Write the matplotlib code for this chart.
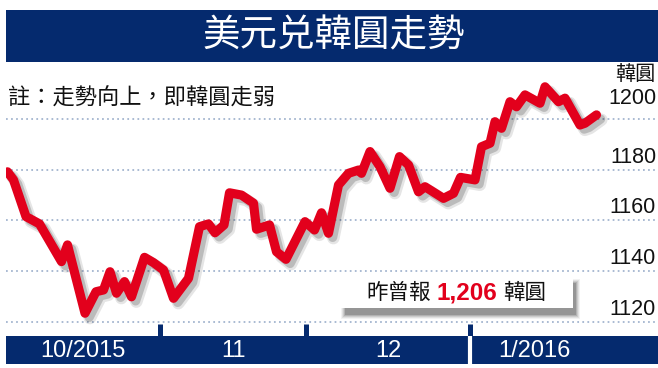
import matplotlib
matplotlib.use("Agg")
import matplotlib.pyplot as plt
import matplotlib.patheffects as pe
from matplotlib.patches import Rectangle

# ---------------- data ----------------
title = "美元兑韓圓走勢"
note = "註：走勢向上，即韓圓走弱"
unit = "韓圓"
# x: approximate day offset from 1 Oct 2015
day = [0.3, 1.5, 4.0, 6.7, 11.1, 12.3, 15.8, 18.0, 19.5, 20.8, 22.1, 23.7, 25.1,
       27.7, 29.5, 31.5, 33.5, 36.5, 38.7, 40.5, 41.8, 43.6, 44.7, 47.1, 49.5,
       50.1, 52.7, 54.1, 56.0, 59.8, 61.7, 63.1, 64.5, 66.5, 68.5, 70.5, 71.1,
       72.8, 74.8, 76.8, 78.7, 80.5, 82.5, 83.8, 87.5, 89.5, 90.9, 93.8, 95.1,
       96.8, 97.8, 99.1, 100.8, 102.1, 103.8, 106.8, 107.8, 110.5, 111.8, 114.8,
       115.8, 118.1]
krw = [1179.2, 1176.0, 1161.5, 1158.6, 1143.7, 1150.3, 1123.3, 1131.8, 1132.5,
       1139.7, 1131.2, 1135.8, 1129.8, 1145.4, 1143.3, 1140.4, 1129.2, 1137.1,
       1157.5, 1158.6, 1155.1, 1158.2, 1170.9, 1170.0, 1166.8, 1156.5, 1158.2,
       1147.6, 1144.6, 1159.5, 1156.2, 1163.0, 1154.9, 1174.0, 1178.6, 1179.9,
       1178.6, 1187.2, 1181.2, 1172.7, 1185.2, 1181.9, 1171.3, 1173.3, 1168.7,
       1170.7, 1177.0, 1176.0, 1189.1, 1190.5, 1199.0, 1196.4, 1206.9, 1204.9,
       1209.6, 1206.3, 1212.8, 1206.9, 1208.3, 1197.7, 1198.4, 1201.7]
y_ticks = [1120, 1140, 1160, 1180, 1200]
month_bounds = [30.7, 60.0, 92.8]
month_centers = [15.3, 45.5, 76.5, 105.6]
month_labels = ["10/2015", "11", "12", "1/2016"]
callout_pre = "昨曾報"
callout_value = "1,206"
callout_post = "韓圓"

# ---------------- styling ----------------
W, H = 658, 368
NAVY = "#052a6e"
RED = "#e2001c"
GRID = "#a9bad2"
CJK = ["Noto Sans CJK TC", "DejaVu Sans"]
NUM = ["Liberation Sans", "DejaVu Sans"]

def fx(px):
    return px / W

def fy(py):
    return 1 - py / H

fig = plt.figure(figsize=(W / 100, H / 100), dpi=100)
fig.patch.set_facecolor("white")

# main plotting axes
ax_l, ax_r, ax_t, ax_b = 6, 658, 62, 336
ax = fig.add_axes([fx(ax_l), fy(ax_b), (ax_r - ax_l) / W, (ax_b - ax_t) / H])
ax.set_xlim(0, 130.4)
ax.set_ylim(1114.3, 1222.6)
ax.set_axis_off()

for v in y_ticks:
    ax.axhline(v, color=GRID, lw=1.4, dashes=(0.9, 1.7), zorder=1)

ax.vlines(month_bounds, 1114.3, 1119.0, color=NAVY, lw=3.6, zorder=2)

ax.plot(day, krw, color=RED, lw=6.6, solid_joinstyle="round",
        solid_capstyle="round", zorder=5,
        path_effects=[pe.SimpleLineShadow(offset=(3.5, -3.5), shadow_color="#000000", alpha=0.10, linewidth=9),
                      pe.SimpleLineShadow(offset=(3, -3), shadow_color="#000000", alpha=0.18),
                      pe.Normal()])

# y labels (right, above gridlines)
for v in y_ticks:
    dy = 21 if v == y_ticks[-1] else 12.5
    ax.annotate(str(v), xy=(1, v), xycoords=("axes fraction", "data"),
                xytext=(-2, dy), textcoords="offset pixels", ha="right",
                va="center", fontsize=15.5, family=NUM, color="#111111")

fig.text(fx(655), fy(75), unit, ha="right", va="center", fontsize=14.5,
         family=CJK, color="#111111")

fig.text(fx(8), fy(98), note, ha="left", va="center", fontsize=16,
         family=CJK, color="#111111")

# title bar
axt = fig.add_axes([fx(6), fy(62), (658 - 6) / W, (62 - 10) / H])
axt.set_facecolor(NAVY)
axt.set_xticks([]); axt.set_yticks([])
for s in axt.spines.values():
    s.set_visible(False)
axt.text(0.503, 0.5, title, ha="center", va="center", color="white",
         fontsize=27, family=CJK, transform=axt.transAxes)

# bottom bar
axb = fig.add_axes([fx(6), fy(364), (658 - 6) / W, (364 - 336) / H])
axb.set_facecolor(NAVY)
axb.set_xlim(ax.get_xlim())
axb.set_ylim(0, 1)
axb.set_xticks([]); axb.set_yticks([])
for s in axb.spines.values():
    s.set_visible(False)
axb.axvline(month_bounds[-1], color="white", lw=3)
for xc, lab in zip(month_centers, month_labels):
    axb.text(xc, 0.47, lab, ha="center", va="center", color="white",
             fontsize=17, family=NUM)

# callout box with soft shadow (below / right)
for i, a in enumerate([0.05, 0.07, 0.09, 0.12, 0.16]):
    grow = 4 - i
    fig.patches.append(Rectangle((fx(345 - grow), fy(315 + grow)),
                                 (231 + 2 * grow) / W, (32 + 2 * grow) / H,
                                 transform=fig.transFigure, facecolor="black",
                                 alpha=a, edgecolor="none", zorder=8))
fig.patches.append(Rectangle((fx(340), fy(308)), 233 / W, 33 / H,
                             transform=fig.transFigure, facecolor="white",
                             edgecolor="none", zorder=9))
fig.text(fx(366), fy(293), callout_pre, ha="left", va="center", fontsize=15.5,
         family=CJK, color="#111111", zorder=10)
fig.text(fx(436), fy(293), callout_value, ha="left", va="center", fontsize=17.5,
         family=NUM, weight="bold", color=RED, zorder=10)
fig.text(fx(503), fy(293), callout_post, ha="left", va="center", fontsize=15.5,
         family=CJK, color="#111111", zorder=10)

fig.savefig("out.png", dpi=100, facecolor="white")
